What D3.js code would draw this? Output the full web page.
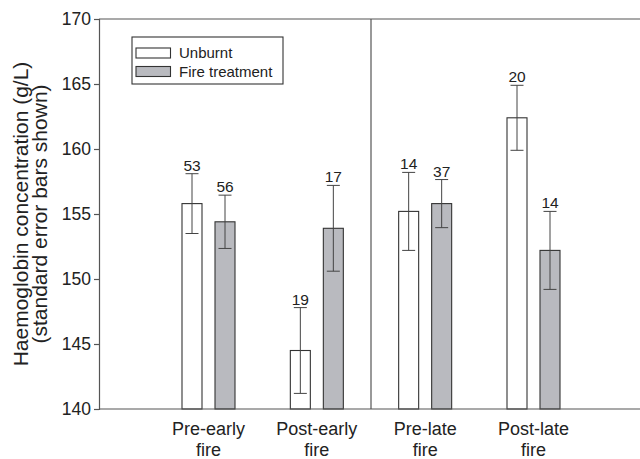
<!DOCTYPE html>
<html>
<head>
<meta charset="utf-8">
<script src="https://cdn.jsdelivr.net/npm/d3@7"></script>
<style>
  html, body { margin: 0; padding: 0; background: #fff; }
  svg { display: block; font-family: "Liberation Sans", Arial, Helvetica, sans-serif; }
</style>
</head>
<body>
<svg id="chart" width="640" height="459"></svg>
<script>
// ---- Data ----
const categories = ["Pre-early fire", "Post-early fire", "Pre-late fire", "Post-late fire"];
const categoryLines = [["Pre-early", "fire"], ["Post-early", "fire"], ["Pre-late", "fire"], ["Post-late", "fire"]];
const unburntMean = [155.8, 144.5, 155.2, 162.4];
const unburntSE   = [2.3, 3.3, 3.0, 2.5];
const unburntN    = [53, 19, 14, 20];
const fireMean    = [154.4, 153.9, 155.8, 152.2];
const fireSE      = [2.05, 3.3, 1.85, 3.0];
const fireN       = [56, 17, 37, 14];
const yTicks      = [140, 145, 150, 155, 160, 165, 170];
const seriesNames = ["Unburnt", "Fire treatment"];

// ---- Layout ----
const svg = d3.select("#chart");
const plotLeft = 99, plotRight = 640, plotTop = 19, plotBottom = 409;
const fillColors = ["#ffffff", "#b9babf"];
const strokeColor = "#333";
const axisColor = "#555";

const y = d3.scaleLinear().domain([140, 170]).range([plotBottom, plotTop]);
const x = d3.scaleLinear().domain([1, 4]).range([208.5, 533.5]);
const barW = 20, offset = 16.5, capHalf = 6.5;

// Frame: top line, divider
svg.append("line").attr("x1", plotLeft).attr("x2", plotRight).attr("y1", y(170)).attr("y2", y(170))
  .attr("stroke", axisColor).attr("stroke-width", 1.2);
svg.append("line").attr("x1", x(2.5)).attr("x2", x(2.5)).attr("y1", y(170)).attr("y2", y(140))
  .attr("stroke", axisColor).attr("stroke-width", 1.2);

// Bars
const series = [
  { mean: unburntMean, se: unburntSE, n: unburntN, dx: -offset, fill: fillColors[0] },
  { mean: fireMean, se: fireSE, n: fireN, dx: offset, fill: fillColors[1] }
];

series.forEach(s => {
  const data = categories.map((c, i) => ({ i, m: s.mean[i], se: s.se[i], n: s.n[i] }));
  const g = svg.append("g");
  g.selectAll("rect").data(data).enter().append("rect")
    .attr("x", d => x(d.i + 1) + s.dx - barW / 2)
    .attr("width", barW)
    .attr("y", d => y(d.m))
    .attr("height", d => y(140) - y(d.m))
    .attr("fill", s.fill)
    .attr("stroke", strokeColor)
    .attr("stroke-width", 1.1);
  g.selectAll("line.err").data(data).enter().append("line").attr("class", "err")
    .attr("x1", d => x(d.i + 1) + s.dx).attr("x2", d => x(d.i + 1) + s.dx)
    .attr("y1", d => y(d.m + d.se)).attr("y2", d => y(d.m - d.se))
    .attr("stroke", "#444").attr("stroke-width", 1);
  g.selectAll("line.capT").data(data).enter().append("line").attr("class", "capT")
    .attr("x1", d => x(d.i + 1) + s.dx - capHalf).attr("x2", d => x(d.i + 1) + s.dx + capHalf)
    .attr("y1", d => y(d.m + d.se)).attr("y2", d => y(d.m + d.se))
    .attr("stroke", "#444").attr("stroke-width", 1);
  g.selectAll("line.capB").data(data).enter().append("line").attr("class", "capB")
    .attr("x1", d => x(d.i + 1) + s.dx - capHalf).attr("x2", d => x(d.i + 1) + s.dx + capHalf)
    .attr("y1", d => y(d.m - d.se)).attr("y2", d => y(d.m - d.se))
    .attr("stroke", "#444").attr("stroke-width", 1);
  g.selectAll("text").data(data).enter().append("text")
    .attr("x", d => x(d.i + 1) + s.dx)
    .attr("y", d => y(d.m + d.se) - 3)
    .attr("text-anchor", "middle")
    .attr("font-size", 15.5)
    .attr("fill", "#222")
    .text(d => d.n);
});

// Y axis
const yAxis = d3.axisLeft(y).tickValues(yTicks).tickSize(5).tickPadding(3).tickFormat(d3.format("d"));
const yg = svg.append("g").attr("transform", `translate(${plotLeft},0)`).call(yAxis);
yg.select(".domain").attr("stroke", axisColor).attr("stroke-width", 1.2);
yg.selectAll(".tick line").attr("stroke", axisColor).attr("stroke-width", 1.2);
yg.selectAll(".tick text").attr("font-size", 17.5).attr("fill", "#222")
  .attr("font-family", '"Liberation Sans", Arial, Helvetica, sans-serif');

// X axis baseline
svg.append("line").attr("x1", plotLeft).attr("x2", plotRight).attr("y1", y(140)).attr("y2", y(140))
  .attr("stroke", axisColor).attr("stroke-width", 1.2);

// Category labels
categoryLines.forEach((lines, i) => {
  const t = svg.append("text").attr("text-anchor", "middle").attr("font-size", 18).attr("fill", "#222");
  lines.forEach((ln, j) => {
    t.append("tspan").attr("x", x(i + 1)).attr("y", 435 + j * 20.5).text(ln);
  });
});

// Y title
const yt = svg.append("text").attr("text-anchor", "middle").attr("font-size", 21).attr("fill", "#222")
  .attr("transform", `translate(0,${(plotTop + plotBottom) / 2}) rotate(-90)`);
yt.append("tspan").attr("x", 0).attr("y", 28).text("Haemoglobin concentration (g/L)");
yt.append("tspan").attr("x", 0).attr("y", 47).text("(standard error bars shown)");

// Legend
const lg = svg.append("g");
lg.append("rect").attr("x", 132).attr("y", 37).attr("width", 151).attr("height", 47)
  .attr("fill", "#fff").attr("stroke", strokeColor).attr("stroke-width", 1.1);
seriesNames.forEach((name, i) => {
  lg.append("rect").attr("x", 136).attr("y", 48 + i * 18.5).attr("width", 34.5).attr("height", 10)
    .attr("fill", fillColors[i]).attr("stroke", strokeColor).attr("stroke-width", 1.1);
  lg.append("text").attr("x", 179).attr("y", 57.5 + i * 19.3).attr("font-size", 15).attr("fill", "#222").text(name);
});
</script>
</body>
</html>
